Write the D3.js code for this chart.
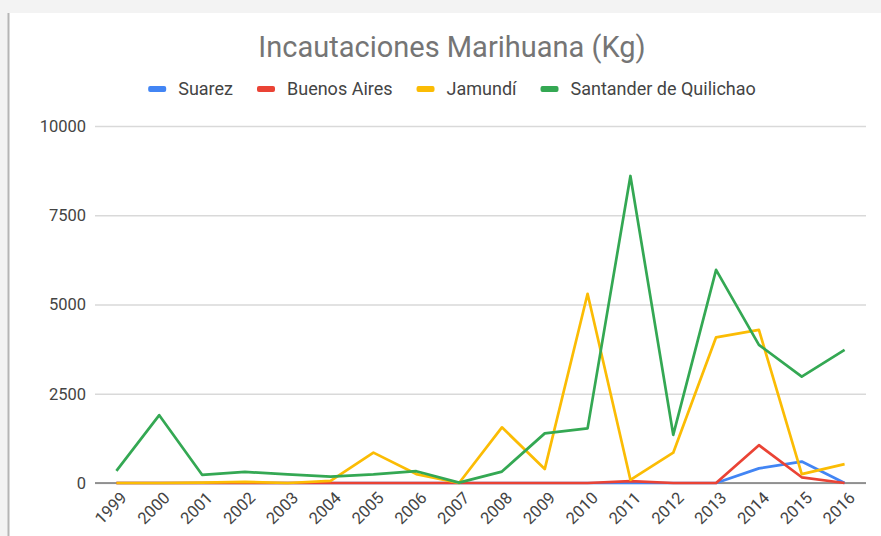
<!DOCTYPE html>
<html>
<head>
<meta charset="utf-8">
<script src="https://cdn.jsdelivr.net/npm/d3@7"></script>
<style>
  html, body { margin: 0; padding: 0; background: #f3f3f3; }
  svg { display: block; }
</style>
</head>
<body>
<div class="svg"></div>
<script>
'use strict';

var years = ['1999', '2000', '2001', '2002', '2003', '2004', '2005', '2006', '2007',
    '2008', '2009', '2010', '2011', '2012', '2013', '2014', '2015', '2016'];
var seriesNames = ['Suarez', 'Buenos Aires', 'Jamundí', 'Santander de Quilichao'];
var suarez = [0, 0, 0, 0, 0, 0, 0, 0, 0, 0, 0, 0, 0, 0, 0, 410, 600, 0];
var buenosAires = [0, 0, 0, 0, 0, 0, 0, 0, 0, 0, 0, 0, 50, 0, 0, 1060, 160, 0];
var jamundi = [0, 0, 10, 30, 0, 60, 850, 250, 0, 1560, 390, 5300, 90, 850, 4080, 4290, 250, 530];
var santander = [340, 1900, 230, 310, 240, 180, 240, 330, 10, 320, 1390, 1530, 8600, 1350, 5970, 3870, 2980, 3730];
var yTicks = [0, 2500, 5000, 7500, 10000];

var colors = ['#4285f4', '#ea4335', '#fbbc04', '#34a853'];
var seriesData = [suarez, buenosAires, jamundi, santander];

var width = 881, height = 536;
var plot = { left: 95, right: 866, top: 126, bottom: 483 };

var svg = d3.select('div.svg').append('svg')
    .attr('width', width)
    .attr('height', height);

// white card with the grey frame round it
svg.append('rect')
    .attr('x', 8).attr('y', 13)
    .attr('width', width - 8).attr('height', height - 13)
    .attr('fill', '#ffffff');
svg.append('line')
    .attr('x1', 8.5).attr('x2', 8.5)
    .attr('y1', 13).attr('y2', height)
    .attr('stroke', '#b5b5b5')
    .attr('stroke-width', 2);

var x = d3.scalePoint()
    .domain(years)
    .range([plot.left, plot.right])
    .padding(0.5);

var y = d3.scaleLinear()
    .domain([0, 10000])
    .range([plot.bottom, plot.top]);

svg.append('text')
    .attr('x', 452)
    .attr('y', 57)
    .attr('text-anchor', 'middle')
    .attr('font-family', 'Roboto, Arial, sans-serif')
    .attr('font-size', 29)
    .attr('fill', '#757575')
    .text('Incautaciones Marihuana (Kg)');

// gridlines + y labels
var yAxis = d3.axisLeft(y).tickValues(yTicks).tickFormat(d3.format('d'))
    .tickSize(-(plot.right - plot.left)).tickPadding(9);
var yAx = svg.append('g')
    .attr('transform', 'translate(' + plot.left + ',0)')
    .call(yAxis);
yAx.select('.domain').remove();
yAx.selectAll('.tick line')
    .attr('stroke', '#d9d9d9')
    .attr('stroke-width', 1.5);
yAx.selectAll('.tick text')
    .attr('font-family', 'Roboto, Arial, sans-serif')
    .attr('font-size', 16.5)
    .attr('fill', '#444');

// baseline
svg.append('line')
    .attr('x1', plot.left).attr('x2', plot.right)
    .attr('y1', y(0)).attr('y2', y(0))
    .attr('stroke', '#777')
    .attr('stroke-width', 1.5);

// x labels
var xAxis = d3.axisBottom(x).tickSize(0);
var xAx = svg.append('g')
    .attr('transform', 'translate(0,' + plot.bottom + ')')
    .call(xAxis);
xAx.select('.domain').remove();
xAx.selectAll('.tick text')
    .attr('font-family', 'Roboto, Arial, sans-serif')
    .attr('font-size', 16.5)
    .attr('fill', '#444')
    .attr('text-anchor', 'end')
    .attr('dy', null)
    .attr('y', 0)
    .attr('transform', 'translate(11,16) rotate(-45)');

var line = d3.line()
    .x(function (d, i) { return x(years[i]); })
    .y(function (d) { return y(d); });

svg.append('g').selectAll('path')
    .data(seriesData)
    .enter().append('path')
    .attr('d', function (d) { return line(d); })
    .attr('fill', 'none')
    .attr('stroke', function (d, i) { return colors[i]; })
    .attr('stroke-width', 2.7)
    .attr('stroke-linejoin', 'round');

// legend, centred under the title
var legend = svg.append('g');
var lx = 0;
seriesNames.forEach(function (name, i) {
    var item = legend.append('g').attr('transform', 'translate(' + lx + ',0)');
    item.append('rect')
        .attr('x', 0).attr('y', -3)
        .attr('width', 18).attr('height', 6)
        .attr('rx', 2)
        .attr('fill', colors[i]);
    var t = item.append('text')
        .attr('x', 30)
        .attr('y', 6)
        .attr('font-family', 'Roboto, Arial, sans-serif')
        .attr('font-size', 18)
        .attr('fill', '#444')
        .text(name);
    lx += 30 + t.node().getComputedTextLength() + 24;
});
lx -= 24;
legend.attr('transform', 'translate(' + (452 - lx / 2) + ',89)');
</script>
</body>
</html>
